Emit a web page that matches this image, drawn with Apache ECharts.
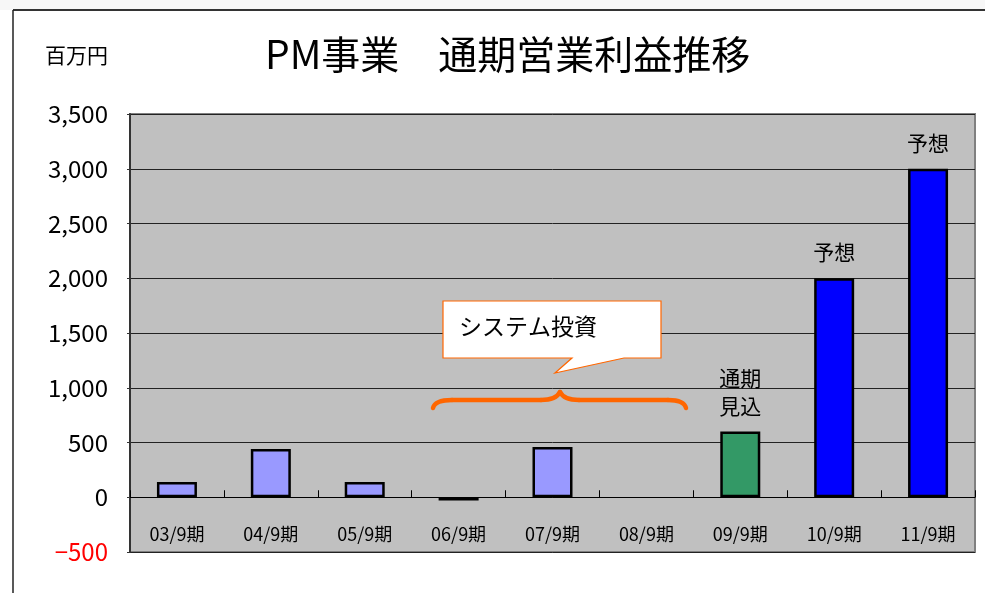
<!DOCTYPE html>
<html>
<head>
<meta charset="utf-8">
<script src="https://cdn.jsdelivr.net/npm/echarts@6/dist/echarts.min.js"></script>
<style>
  html, body { margin: 0; padding: 0; background: #fff; }
  #chart { width: 985px; height: 593px; }
</style>
</head>
<body>
<div id="chart"></div>
<script>
// PM事業 通期営業利益 (百万円)
var categories = ["03/9期", "04/9期", "05/9期", "06/9期", "07/9期", "08/9期", "09/9期", "10/9期", "11/9期"];
var profits = [140, 440, 140, -30, 460, 0, 600, 2000, 3000];
var kinds = ["実績", "実績", "実績", "実績", "実績", "実績", "見込", "予想", "予想"];
var yTicks = { min: -500, max: 3500, step: 500 };

var font = '"Noto Sans CJK JP", "Liberation Sans", sans-serif';
var kindColor = { "実績": "#9999ff", "見込": "#339966", "予想": "#0000ff" };
var kindNote = { "実績": "", "見込": "通期\n見込", "予想": "予想" };

var gridTop = 114, gridBottom = 41, chartH = 593;
// put the category axis on the zero line (labels follow it)
var plotH = chartH - gridTop - gridBottom;
var zeroOffset = -plotH * (0 - yTicks.min) / (yTicks.max - yTicks.min);

var chart = echarts.init(document.getElementById("chart"));

var barData = profits.map(function (v, i) {
    var note = kindNote[kinds[i]];
    return {
        value: v,
        itemStyle: {
            color: v < 0 ? "#000" : kindColor[kinds[i]],
            borderWidth: v === 0 ? 0 : 2.5
        },
        label: {
            show: note !== "",
            formatter: note,
            position: "top",
            distance: 12,
            fontSize: 21,
            lineHeight: 28,
            color: "#000",
            fontFamily: font
        }
    };
});

var orange = "#ff6600";
var braceStyle = { fill: null, stroke: orange, lineWidth: 4.5, lineCap: "round" };

chart.setOption({
    backgroundColor: "#fff",
    animation: false,
    title: [{
        text: "PM事業　通期営業利益推移",
        left: 260,
        top: 30,
        textStyle: { fontSize: 39, fontWeight: "normal", color: "#000", fontFamily: font }
    }, {
        text: "百万円",
        left: 40,
        top: 40,
        textStyle: { fontSize: 21, fontWeight: "normal", color: "#000", fontFamily: font }
    }],
    grid: {
        left: 130, right: 10, top: gridTop, bottom: gridBottom,
        outerBoundsMode: "none",
        show: true,
        backgroundColor: "#c0c0c0",
        borderColor: "#808080",
        borderWidth: 2
    },
    xAxis: {
        type: "category",
        data: categories,
        position: "bottom",
        offset: zeroOffset,
        axisLine: { onZero: false, lineStyle: { color: "#000", width: 1 } },
        axisTick: { show: true, inside: true, length: 7, lineStyle: { color: "#000" } },
        axisLabel: { margin: 28, fontSize: 18, color: "#000", fontFamily: font }
    },
    yAxis: {
        type: "value",
        min: yTicks.min,
        max: yTicks.max,
        interval: yTicks.step,
        axisLine: { show: true, lineStyle: { color: "#333", width: 2 } },
        axisTick: { show: true, length: 3, lineStyle: { color: "#333" } },
        splitLine: { show: true, lineStyle: { color: "#222", width: 1 } },
        axisLabel: {
            margin: 22,
            fontSize: 24,
            fontFamily: font,
            color: "#000",
            formatter: function (v) {
                if (v < 0) return "{neg|\u2212" + Math.abs(v).toLocaleString("en-US") + "}";
                return v.toLocaleString("en-US");
            },
            rich: { neg: { color: "#ff0000", fontSize: 24, fontFamily: font } }
        }
    },
    series: [{
        type: "bar",
        data: barData,
        barWidth: 40,
        itemStyle: { borderColor: "#000", borderWidth: 2.5 }
    }],
    graphic: [
        // outer frame
        { type: "rect", z: -1, shape: { x: 0, y: 0, width: 985, height: 10 }, style: { fill: "#f7f7f7" } },
        { type: "line", shape: { x1: 13, y1: 10, x2: 985, y2: 10 }, style: { stroke: "#333", lineWidth: 2 } },
        { type: "line", shape: { x1: 13, y1: 10, x2: 13, y2: 593 }, style: { stroke: "#222", lineWidth: 1.5 } },
        // brace over 06/9 - 08/9
        { type: "bezierCurve", z: 10, shape: { x1: 433, y1: 408, cpx1: 435, cpy1: 400, x2: 452, y2: 400 }, style: braceStyle },
        { type: "line", z: 10, shape: { x1: 452, y1: 400, x2: 541, y2: 400 }, style: braceStyle },
        { type: "bezierCurve", z: 10, shape: { x1: 541, y1: 400, cpx1: 556, cpy1: 400, x2: 560, y2: 392 }, style: braceStyle },
        { type: "bezierCurve", z: 10, shape: { x1: 560, y1: 392, cpx1: 564, cpy1: 400, x2: 579, y2: 400 }, style: braceStyle },
        { type: "line", z: 10, shape: { x1: 579, y1: 400, x2: 668, y2: 400 }, style: braceStyle },
        { type: "bezierCurve", z: 10, shape: { x1: 668, y1: 400, cpx1: 684, cpy1: 400, x2: 686, y2: 408 }, style: braceStyle },
        // callout
        {
            type: "polygon", z: 10,
            shape: { points: [[443, 301], [661, 301], [661, 358], [624, 358], [555, 373], [572, 358], [443, 358]] },
            style: { fill: "#fff", stroke: orange, lineWidth: 1.2 }
        },
        {
            type: "text", z: 11, left: 459, top: 315,
            style: { text: "システム投資", fill: "#000", font: "23px " + font }
        }
    ]
});
</script>
</body>
</html>
